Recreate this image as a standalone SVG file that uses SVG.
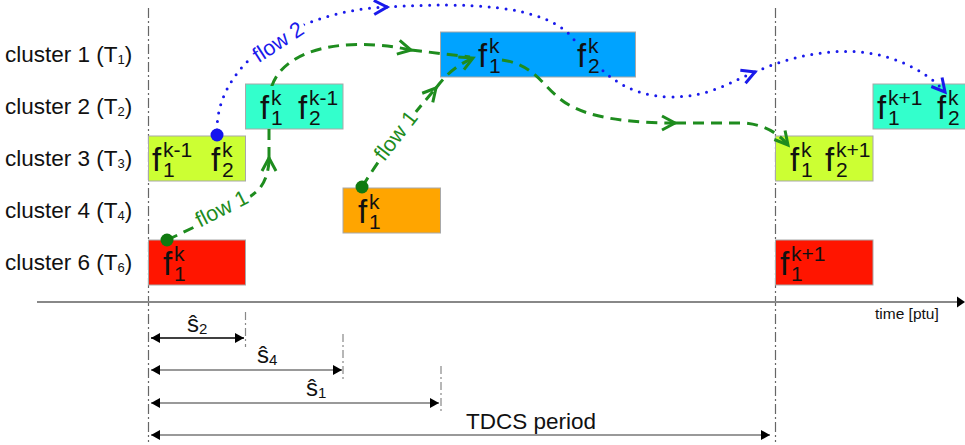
<svg xmlns="http://www.w3.org/2000/svg" width="965" height="445" viewBox="0 0 965 445">
<style>
text{font-family:"Liberation Sans",Arial,sans-serif;fill:#111}
.lbl{font-size:22.5px}
.lsub{font-size:13px}
.f{font-size:33px}
.fs{font-size:21px}
.box{stroke:#a8a8a8;stroke-width:1}
.vline{stroke:#666;stroke-width:1.2;stroke-dasharray:10 3 2 3;fill:none}
.tick{stroke:#888;stroke-width:1.2;stroke-dasharray:8 3 2 3;fill:none}
.g{fill:none;stroke:#1e8c1e;stroke-width:3;stroke-dasharray:11 7}
.b{fill:none;stroke:#1a1aeb;stroke-width:3;stroke-dasharray:0 8.5;stroke-linecap:round}
.gl{font-size:21.5px;fill:#1e8c1e}
.bl{font-size:21.5px;fill:#1a1aeb}
.dim{stroke:#777;stroke-width:1.5;fill:none}
.s{font-size:24px}
.ss{font-size:15px}
</style>
<defs>
<marker id="ag" markerUnits="userSpaceOnUse" viewBox="-16 -10 20 20" markerWidth="20" markerHeight="20" refX="0" refY="0" orient="auto">
<path d="M-13,-7 L0,0 L-13,7" fill="none" stroke="#1e8c1e" stroke-width="3"/>
</marker>
<marker id="ab" markerUnits="userSpaceOnUse" viewBox="-16 -10 20 20" markerWidth="20" markerHeight="20" refX="0" refY="0" orient="auto">
<path d="M-13,-7 L0,0 L-13,7" fill="none" stroke="#1a1aeb" stroke-width="3"/>
</marker>
<marker id="tri" markerUnits="userSpaceOnUse" viewBox="0 -5 9 10" markerWidth="9" markerHeight="10" refX="9" refY="0" orient="auto-start-reverse">
<path d="M0,-5 L9,0 L0,5z" fill="#000"/>
</marker>
<mask id="m" maskUnits="userSpaceOnUse" x="0" y="0" width="965" height="445">
<rect width="965" height="445" fill="#fff"/>
<rect x="-31" y="-18" width="62" height="23" fill="#000" transform="translate(282,48) rotate(-33)"/>
<rect x="-31" y="-18" width="62" height="23" fill="#000" transform="translate(225,215) rotate(-27)"/>
<rect x="-31" y="-18" width="62" height="23" fill="#000" transform="translate(401.5,140) rotate(-52)"/>
<rect x="261" y="86" width="20" height="41" fill="#000"/>
<rect x="577" y="38" width="24" height="38" fill="#000"/>
</mask>
</defs>
<rect width="965" height="445" fill="#fff"/>

<g id="labels">
<text class="lbl" x="5" y="62">cluster 1 (T<tspan class="lsub" dy="2">1</tspan><tspan dy="-2">)</tspan></text>
<text class="lbl" x="5" y="114">cluster 2 (T<tspan class="lsub" dy="2">2</tspan><tspan dy="-2">)</tspan></text>
<text class="lbl" x="5" y="166">cluster 3 (T<tspan class="lsub" dy="2">3</tspan><tspan dy="-2">)</tspan></text>
<text class="lbl" x="5" y="218">cluster 4 (T<tspan class="lsub" dy="2">4</tspan><tspan dy="-2">)</tspan></text>
<text class="lbl" x="5" y="270">cluster 6 (T<tspan class="lsub" dy="2">6</tspan><tspan dy="-2">)</tspan></text>
</g>

<g id="grid">
<line class="vline" x1="148.5" y1="8" x2="148.5" y2="442"/>
<line class="vline" x1="775.5" y1="8" x2="775.5" y2="442"/>
<line x1="37" y1="302" x2="958" y2="302" stroke="#888" stroke-width="2"/>
<polygon points="957,296.5 965,302 957,307.5" fill="#000"/>
<text x="875" y="319" style="font-size:15.5px">time [ptu]</text>
</g>

<g id="n-c3-left">
<rect class="box" x="148.5" y="136" width="97" height="45" fill="#ccff33"/>
<text class="f" x="152" y="171">f<tspan class="fs" x="163" dy="-14">k-1</tspan><tspan class="fs" x="163" dy="20">1</tspan></text>
<text class="f" x="211" y="171">f<tspan class="fs" x="222" dy="-14">k</tspan><tspan class="fs" x="222" dy="20">2</tspan></text>
</g>
<g id="n-c6-left">
<rect class="box" x="148.5" y="240" width="97" height="45" fill="#ff1500"/>
<text class="f" x="163" y="275">f<tspan class="fs" x="174" dy="-14">k</tspan><tspan class="fs" x="174" dy="20">1</tspan></text>
</g>
<g id="n-c2-left">
<rect class="box" x="245.5" y="84" width="97.5" height="45" fill="#33ffcc"/>
<text class="f" x="260" y="119">f<tspan class="fs" x="271" dy="-14">k</tspan><tspan class="fs" x="271" dy="20">1</tspan></text>
<text class="f" x="298" y="119">f<tspan class="fs" x="309" dy="-14">k-1</tspan><tspan class="fs" x="309" dy="20">2</tspan></text>
</g>
<g id="n-c4">
<rect class="box" x="343" y="188" width="97.5" height="45" fill="#ffa500"/>
<text class="f" x="358" y="223">f<tspan class="fs" x="369" dy="-14">k</tspan><tspan class="fs" x="369" dy="20">1</tspan></text>
</g>
<g id="n-c1">
<rect class="box" x="440.5" y="32" width="195" height="45" fill="#00a3ff"/>
<text class="f" x="478" y="67">f<tspan class="fs" x="489" dy="-14">k</tspan><tspan class="fs" x="489" dy="20">1</tspan></text>
<text class="f" x="577" y="67">f<tspan class="fs" x="588" dy="-14">k</tspan><tspan class="fs" x="588" dy="20">2</tspan></text>
</g>
<g id="n-c3-right">
<rect class="box" x="775.5" y="136" width="97.5" height="45" fill="#ccff33"/>
<text class="f" x="790" y="171">f<tspan class="fs" x="801" dy="-14">k</tspan><tspan class="fs" x="801" dy="20">1</tspan></text>
<text class="f" x="825" y="171">f<tspan class="fs" x="836" dy="-14">k+1</tspan><tspan class="fs" x="836" dy="20">2</tspan></text>
</g>
<g id="n-c2-right">
<rect class="box" x="873" y="84" width="95" height="45" fill="#33ffcc"/>
<text class="f" x="877" y="119">f<tspan class="fs" x="888" dy="-14">k+1</tspan><tspan class="fs" x="888" dy="20">1</tspan></text>
<text class="f" x="937" y="119">f<tspan class="fs" x="948" dy="-14">k</tspan><tspan class="fs" x="948" dy="20">2</tspan></text>
</g>
<g id="n-c6-right">
<rect class="box" x="775.5" y="240" width="97.5" height="45" fill="#ff1500"/>
<text class="f" x="780" y="275">f<tspan class="fs" x="791" dy="-14">k+1</tspan><tspan class="fs" x="791" dy="20">1</tspan></text>
</g>

<g id="connectors">
<g mask="url(#m)">
<path class="g" d="M167,240 C210,220 250,200 260,188 C266,180 269,170 269,158" marker-end="url(#ag)"/>
<path class="g" d="M269,158 L269,100 C272,50 340,35 411,50" marker-end="url(#ag)"/>
<path class="g" d="M411,50 L470,57"/>
<path class="g" d="M362,187 C385,150 410,118 436,88" marker-end="url(#ag)"/>
<path class="g" d="M436,88 C445,76 455,66 473,58" marker-end="url(#ag)"/>
<path class="g" d="M502,60 C540,65 545,95 575,108 C600,120 640,123 675,123" marker-end="url(#ag)"/>
<path class="g" d="M675,123 L745,123 C765,125 778,133 788,145" marker-end="url(#ag)"/>
<path class="b" d="M217,130 C217,60 300,10 387,7" marker-end="url(#ab)"/>
<path class="b" d="M387,7 C470,2 540,5 570,35 C600,70 620,95 670,97 C710,97 730,82 755,72" marker-end="url(#ab)"/>
<path class="b" d="M755,72 C800,52 850,45 890,58 C915,66 935,80 945,92" marker-end="url(#ab)"/>
</g>
<circle cx="167" cy="240" r="6.5" fill="#107a10"/>
<circle cx="362" cy="187" r="6.5" fill="#107a10"/>
<circle cx="217" cy="135" r="6.5" fill="#1414ee"/>
<text class="bl" text-anchor="middle" transform="translate(282,48) rotate(-33)">flow 2</text>
<text class="gl" text-anchor="middle" transform="translate(225,215) rotate(-27)">flow 1</text>
<text class="gl" text-anchor="middle" transform="translate(401.5,140) rotate(-52)">flow 1</text>
</g>

<g id="dimensions">
<line class="tick" x1="245.5" y1="312" x2="245.5" y2="347"/>
<line class="tick" x1="343" y1="334" x2="343" y2="380"/>
<line class="tick" x1="441" y1="366" x2="441" y2="411"/>
<line x1="151" y1="338" x2="244" y2="338" stroke="#000" stroke-width="1.5" marker-start="url(#tri)" marker-end="url(#tri)"/>
<line class="dim" x1="151" y1="370" x2="342" y2="370" marker-start="url(#tri)" marker-end="url(#tri)"/>
<line class="dim" x1="151" y1="403" x2="439" y2="403" marker-start="url(#tri)" marker-end="url(#tri)"/>
<line class="dim" x1="151" y1="435" x2="770" y2="435" marker-start="url(#tri)" marker-end="url(#tri)"/>
<text class="s" x="187" y="332">ŝ<tspan class="ss" dy="2">2</tspan></text>
<text class="s" x="257" y="363">ŝ<tspan class="ss" dy="2">4</tspan></text>
<text class="s" x="306" y="396">ŝ<tspan class="ss" dy="2">1</tspan></text>
<text class="lbl" x="466" y="429">TDCS period</text>
</g>
</svg>
